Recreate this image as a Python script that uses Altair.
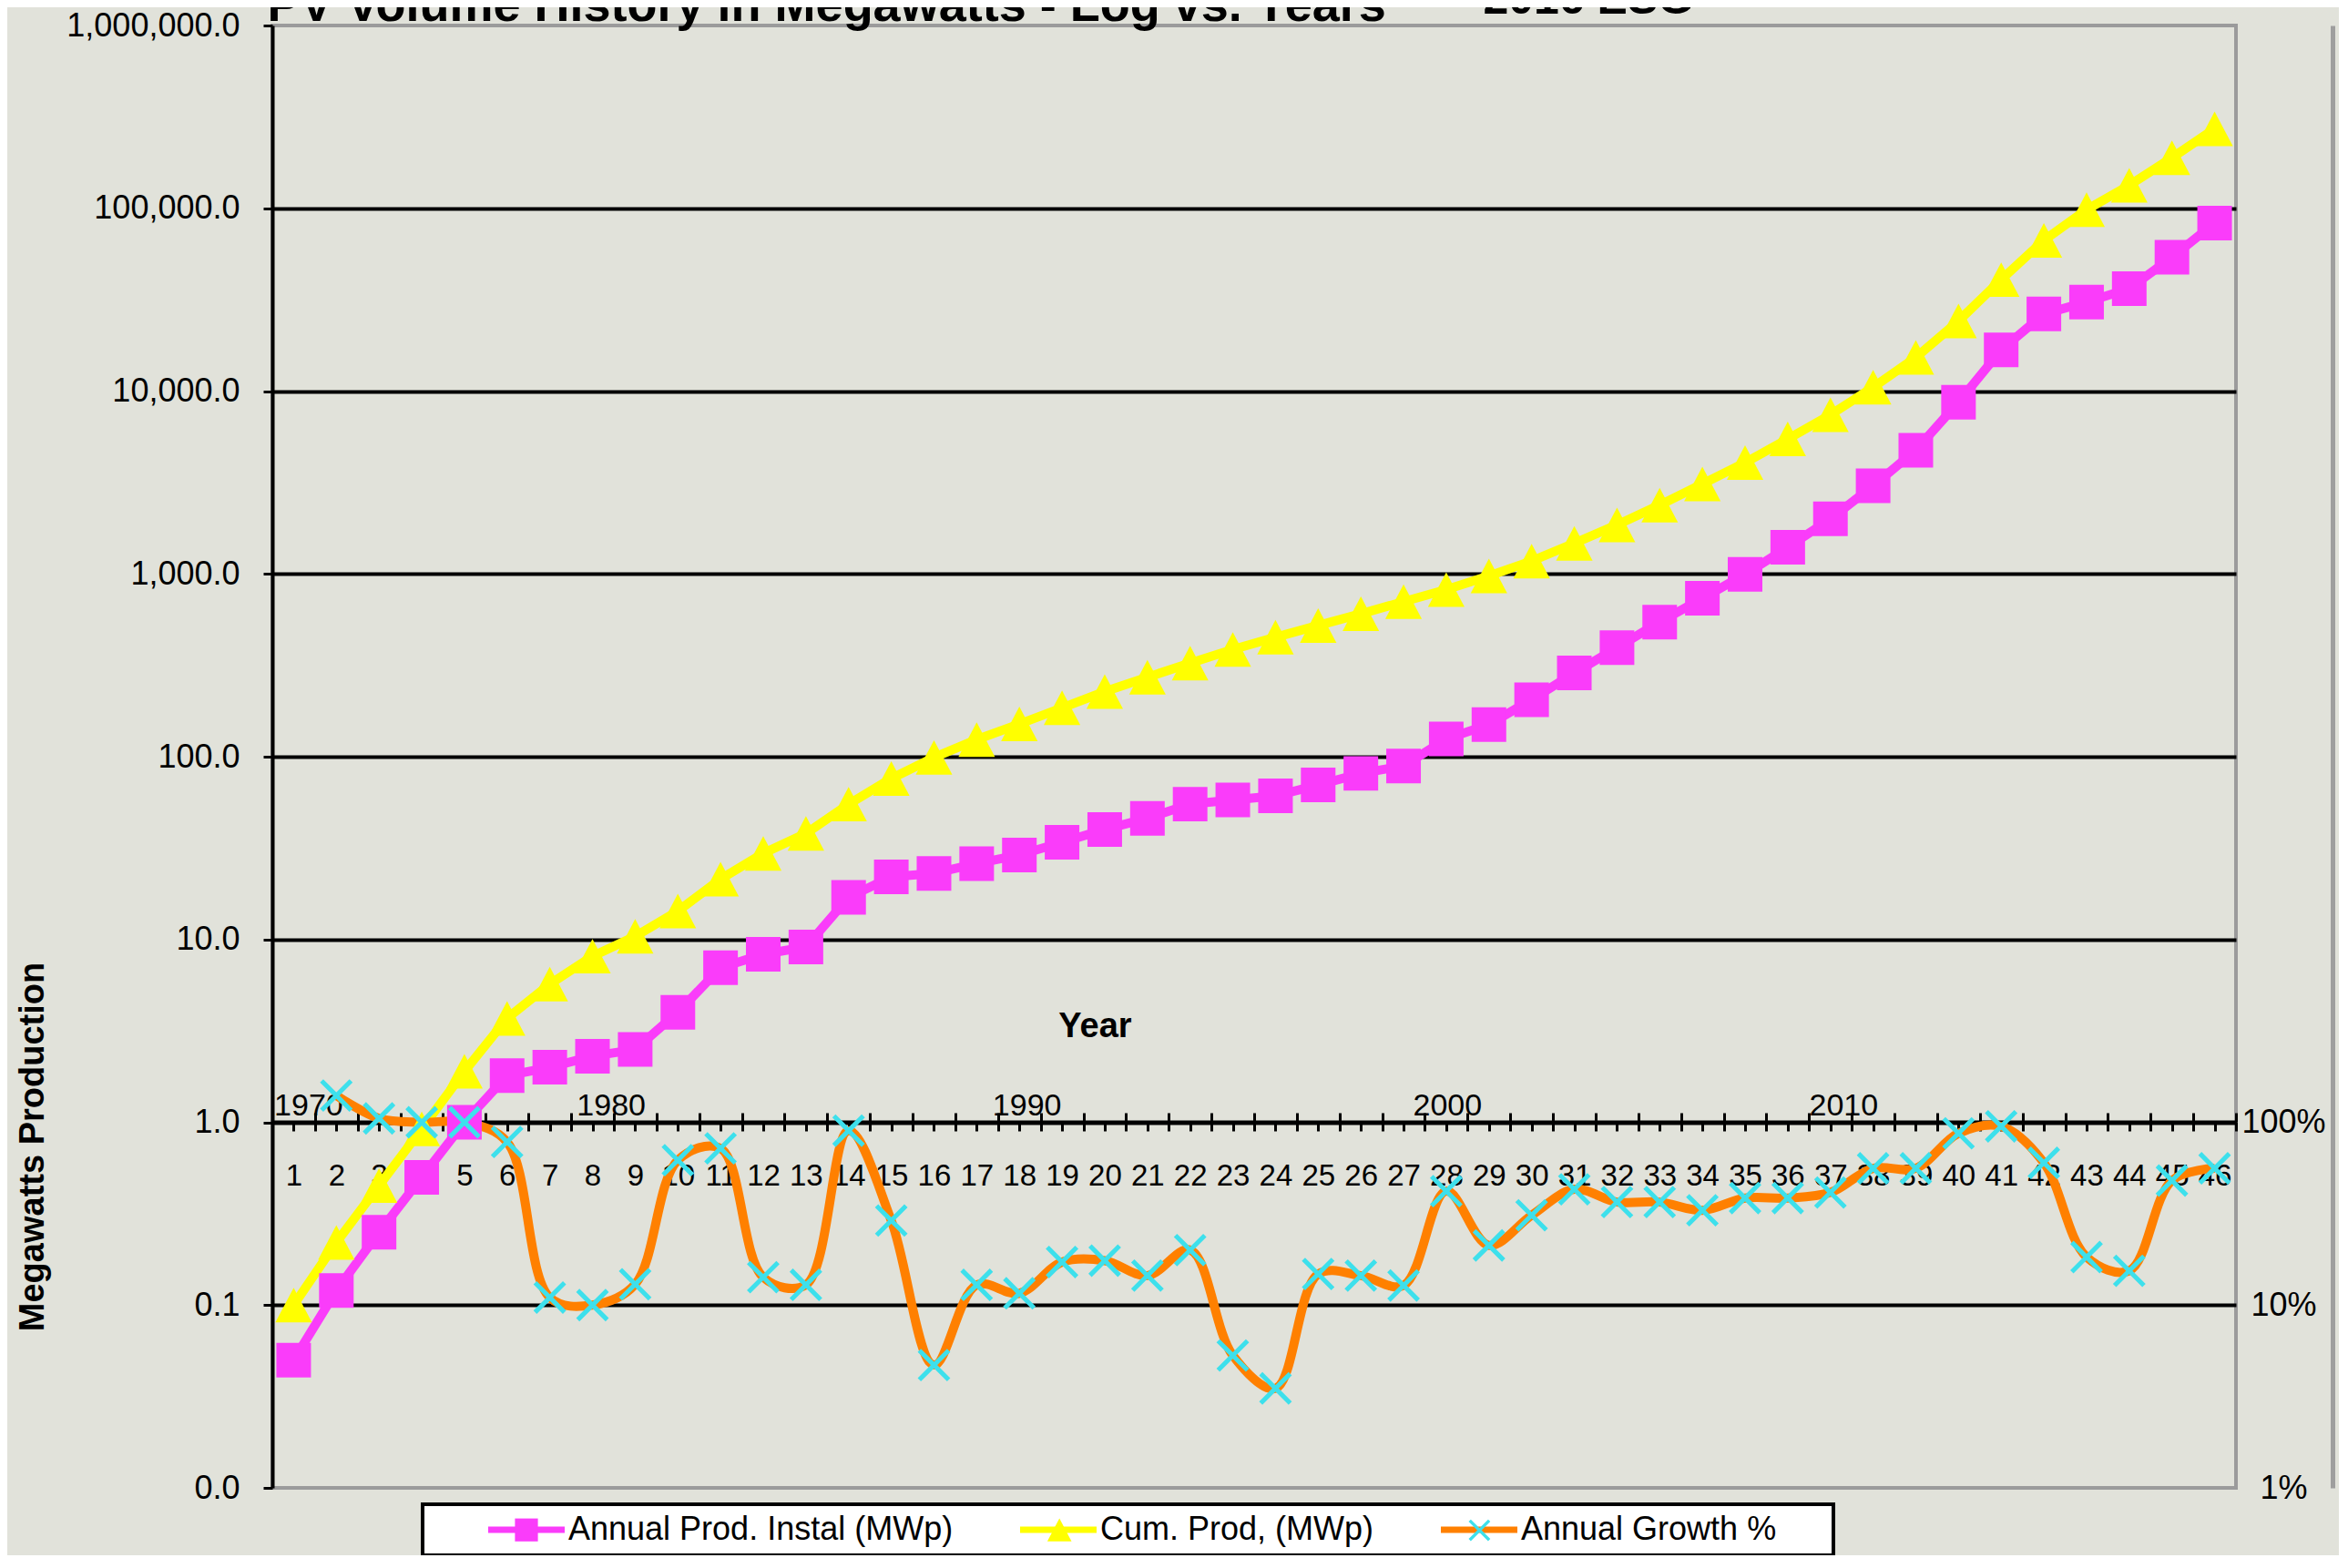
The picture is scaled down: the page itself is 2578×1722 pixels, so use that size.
import json
import altair as alt
import pandas as pd

FONT = "Liberation Sans"

# ---------------- data ----------------
idx = list(range(1, 47))
annual = [0.05, 0.12, 0.25, 0.5, 1.0, 1.8, 2.0, 2.3, 2.5, 4.0, 7.0, 8.3, 9.1, 17, 22, 23,
          26, 29, 34, 40, 46, 55, 58, 61, 70, 81, 89, 125, 150, 205, 287, 395, 545, 735,
          995, 1400, 2000, 3030, 4750, 8700, 16800, 26400, 30700, 36300, 54000, 83000]
cumulative = [0.1, 0.22, 0.45, 0.92, 1.9, 3.7, 5.7, 8.1, 10.4, 14.3, 21.4, 29.6, 38, 55, 76,
              99, 124, 151, 185, 227, 272, 325, 386, 450, 522, 605, 705, 820, 975, 1175, 1470,
              1855, 2380, 3100, 4060, 5470, 7420, 10500, 15280, 24200, 40700, 66800, 98200,
              133600, 189000, 272000]
growth_idx = list(range(2, 47))
growth = [1.40, 1.05, 1.0, 1.0, 0.78, 0.11, 0.10, 0.13, 0.62, 0.72, 0.142, 0.129, 0.90, 0.29,
          0.047, 0.129, 0.116, 0.172, 0.175, 0.145, 0.20, 0.053, 0.035, 0.148, 0.145, 0.128,
          0.42, 0.212, 0.31, 0.43, 0.366, 0.366, 0.33, 0.385, 0.385, 0.413, 0.56, 0.56, 0.87,
          0.95, 0.60, 0.183, 0.154, 0.48, 0.56]

series_names = ["Annual Prod. Instal (MWp)", "Cum. Prod, (MWp)", "Annual Growth %"]
marker_keys = ["#" + n for n in series_names]
line_colors = ["#fa3cfa", "#ffff00", "#ff8000"]
marker_colors = ["#fa3cfa", "#ffff00", "#3de0ec"]
SQUARE = "M-0.9,-0.9L0.9,-0.9L0.9,0.9L-0.9,0.9Z"
TRIANGLE = "M0,-0.9L0.95,0.9L-0.95,0.9Z"
XMARK = ("M-0.68,-0.85L0.85,0.68L0.68,0.85L-0.85,-0.68Z"
         "M0.68,-0.85L0.85,-0.68L-0.68,0.85L-0.85,0.68Z")
marker_shapes = [SQUARE, TRIANGLE, XMARK]
LEGEND_LINE = "M-3,0L3,0"

year_labels = ["1970", "1980", "1990", "2000", "2010"]
year_label_pos = [1.34, 8.43, 18.17, 28.02, 37.3]

y_ticks = [0.01, 0.1, 1, 10, 100, 1000, 10000, 100000, 1000000]
grid_vals = [0.1, 1, 10, 100, 1000, 10000, 100000]
pct_vals = [0.01, 0.1, 1]
bottom_tick_vals = [k / 2 for k in range(1, 94)]
top_tick_vals = [k + 0.5 for k in range(0, 47)]

# ---------------- tables ----------------
df_ac = pd.DataFrame(
    [{"idx": i, "value": v, "series": series_names[0]} for i, v in zip(idx, annual)]
    + [{"idx": i, "value": v, "series": series_names[1]} for i, v in zip(idx, cumulative)]
)
df_g = pd.DataFrame([{"idx": i, "value": v, "series": series_names[2]}
                     for i, v in zip(growth_idx, growth)])
df_all = pd.concat([df_ac, df_g], ignore_index=True)
df_all["mseries"] = "#" + df_all["series"]

W, H = 2156, 1606
xscale = alt.Scale(domain=[0.5, 46.5], nice=False, zero=False)
yscale = alt.Scale(type="log", domain=[0.01, 1e6], nice=False)

left_axis = alt.Axis(orient="left", values=y_ticks, format=",.1f", labelFontSize=36,
                     labelColor="black", labelPadding=26, labelLimit=500, tickSize=10,
                     tickWidth=3, tickColor="black", domainColor="black", domainWidth=4,
                     grid=False, labelFlush=False, labelOverlap=False,
                     title="Megawatts Production", titleFontSize=38, titleFontWeight="bold",
                     titleColor="black", titleAngle=270, titleX=-263, titleY=1231,
                     titleAlign="center", titleBaseline="middle")
right_axis = alt.Axis(orient="right", offset=106, values=pct_vals, format=".0%",
                      labelFontSize=36, labelColor="black", labelAlign="center",
                      labelBaseline="middle", labelPadding=-54, ticks=False, tickSize=0,
                      domain=True, domainColor="#9e9e9e", domainWidth=5, domainOpacity=1,
                      grid=False, labelFlush=False, labelOverlap=False,
                      title="2016 ESG", titleAngle=0, titleX=-933, titleY=-14,
                      titleAlign="left", titleBaseline="alphabetic", titleFontSize=50,
                      titleFontWeight="bold", titleColor="black", titleLimit=3000)
grid_axis = alt.Axis(orient="left", values=grid_vals, grid=True, gridColor="black",
                     gridWidth=4, gridOpacity=1, labels=False, ticks=False, domain=False,
                     title=None)
bottom_axis = alt.Axis(orient="bottom", offset=-402, values=bottom_tick_vals,
                       labelExpr="datum.value % 1 == 0 ? format(datum.value, 'd') : ''",
                       labelFontSize=33, labelColor="black", labelPadding=49,
                       labelBaseline="middle", tickSize=10, tickWidth=3, tickColor="black",
                       domainColor="black", domainWidth=4, grid=False, title=None,
                       labelOverlap=False, labelFlush=False)
topA_axis = alt.Axis(orient="top", offset=-1204, values=top_tick_vals, labels=False,
                     tickSize=10, tickWidth=3, tickColor="black", domain=False, grid=False,
                     title="Year", titleFontSize=38, titleFontWeight="bold", titleColor="black",
                     titleX=903, titleY=-94, titleAlign="center", titleBaseline="alphabetic")
year_expr = f"{json.dumps(year_labels)}[indexof({json.dumps(year_label_pos)}, datum.value)]"
topB_axis = alt.Axis(orient="top", offset=-1204, values=year_label_pos, labelExpr=year_expr,
                     ticks=False, tickSize=0, labelPadding=8, labelBaseline="alphabetic",
                     labelFontSize=34, labelColor="black", domain=False, grid=False,
                     labelOverlap=False, labelFlush=False,
                     title="PV Volume History in Megawatts - Log vs. Years", titleFontSize=54,
                     titleFontWeight="bold", titleColor="black", titleX=-6, titleY=-1210,
                     titleAlign="left", titleBaseline="alphabetic", titleLimit=3000)

legend_common = dict(orient="none", legendX=165, legendY=1624, direction="horizontal",
                     symbolSize=784, symbolStrokeWidth=7, labelFontSize=36,
                     labelColor="black", labelLimit=2000, labelOffset=28,
                     padding=10, title="\u00a0", titleOrient="left", titlePadding=86,
                     titleColor="transparent", titleFontSize=34)
last_name = series_names[-1]
pad_chars = "\u2800\u2800"
legend_lines = alt.Legend(
    symbolType=LEGEND_LINE, fillColor="white", strokeColor="black", zindex=1,
    columnPadding=59,
    labelExpr=f"datum.label == '{last_name}' ? datum.label + '{pad_chars}' : datum.label",
    **legend_common)
legend_marks = alt.Legend(labelOpacity=0, symbolStrokeColor="transparent", zindex=2,
                          columnPadding=88.2, labelExpr="slice(datum.label, 1)",
                          **legend_common)

stroke_enc = alt.Stroke("series:N", scale=alt.Scale(domain=series_names, range=line_colors),
                        legend=legend_lines)

lines_ac = alt.Chart(df_ac).mark_line(strokeWidth=10).encode(
    x=alt.X("idx:Q", scale=xscale, axis=bottom_axis),
    y=alt.Y("value:Q", scale=yscale, axis=left_axis),
    stroke=stroke_enc,
    detail="series:N",
)
line_g = alt.Chart(df_g).mark_line(strokeWidth=10, interpolate="catmull-rom").encode(
    x=alt.X("idx:Q", scale=xscale, axis=None),
    y=alt.Y("value:Q", scale=yscale, axis=None),
    stroke=stroke_enc,
)
points = alt.Chart(df_all).mark_point(filled=True, size=1782, opacity=1, strokeWidth=0).encode(
    x=alt.X("idx:Q", scale=xscale, axis=topA_axis),
    y=alt.Y("value:Q", scale=yscale, axis=right_axis),
    fill=alt.Fill("mseries:N", scale=alt.Scale(domain=marker_keys, range=marker_colors),
                  legend=legend_marks),
    shape=alt.Shape("mseries:N", scale=alt.Scale(domain=marker_keys, range=marker_shapes),
                    legend=legend_marks),
)
ghost = alt.Chart(df_g).mark_point(opacity=0).encode(
    x=alt.X("idx:Q", scale=xscale, axis=topB_axis),
    y=alt.Y("value:Q", scale=yscale, axis=grid_axis),
)

chart = (
    alt.layer(lines_ac, line_g, points, ghost)
    .resolve_axis(x="independent", y="independent")
    .properties(width=W, height=H, autosize=alt.AutoSizeParams(type="none"),
                padding={"left": 291, "top": 20, "right": 113, "bottom": 74})
    .configure(background="#e1e2da", font=FONT)
    .configure_view(stroke="#9b9b9b", strokeWidth=4)
    .configure_legend(strokeWidth=4)
)

chart.save("out.html", embed_options={"renderer": "svg", "actions": False})
